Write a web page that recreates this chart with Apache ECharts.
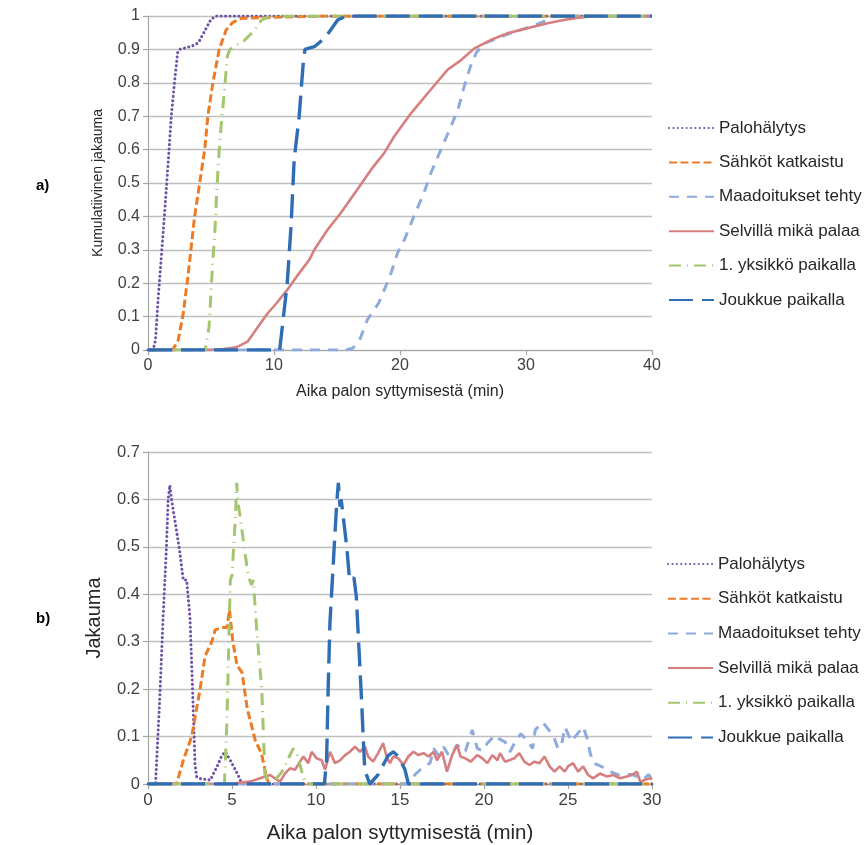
<!DOCTYPE html>
<html><head><meta charset="utf-8">
<script src="https://cdn.jsdelivr.net/npm/echarts@6/dist/echarts.min.js"></script>
<style>html,body{margin:0;padding:0;background:#fff}#c{width:866px;height:845px}</style>
</head><body><div id="c"></div>
<script>
// ---------- Series names ----------
const seriesNames = ['Palohälytys', 'Sähköt katkaistu', 'Maadoitukset tehty', 'Selvillä mikä palaa', '1. yksikkö paikalla', 'Joukkue paikalla'];

// ---------- a) cumulative distribution (time in min, value) ----------
const cumPaloT = [0, 0.4, 0.6, 0.8, 1.0, 1.3, 1.6, 1.85, 2.1, 2.35, 2.5, 3.0, 3.5, 4.0, 4.5, 5.0, 5.4, 40];
const cumPaloV = [0, 0, 0.03, 0.15, 0.25, 0.4, 0.56, 0.7, 0.8, 0.89, 0.9, 0.905, 0.91, 0.92, 0.955, 0.99, 1, 1];

const cumSahkoT = [0, 1.95, 2.4, 2.8, 3.2, 3.7, 4.1, 4.5, 4.75, 5.15, 5.65, 6.2, 6.7, 7.4, 10, 14, 40];
const cumSahkoV = [0, 0, 0.03, 0.11, 0.23, 0.4, 0.5, 0.6, 0.7, 0.8, 0.9, 0.958, 0.98, 0.993, 0.996, 1, 1];

const cumMaadT = [0, 15.7, 16.25, 16.8, 17.4, 18.3, 19.2, 19.8, 20.35, 21.1, 21.9, 22.45, 23.25, 24.05, 24.6, 25.1, 25.6, 26.05, 26.7, 28, 29.1, 30.4, 31.7, 32.3, 40];
const cumMaadV = [0, 0, 0.005, 0.03, 0.09, 0.14, 0.22, 0.29, 0.33, 0.4, 0.47, 0.53, 0.6, 0.67, 0.72, 0.79, 0.85, 0.89, 0.918, 0.938, 0.953, 0.968, 0.988, 1, 1];

const cumSelvT = [0, 5.0, 6.0, 7.0, 7.9, 8.75, 9.5, 10.2, 11.05, 11.9, 12.8, 13.2, 14.25, 15.3, 16.6, 17.7, 18.75, 19.55, 20.9, 22.45, 23.8, 24.85, 25.9, 27.2, 28.5, 30.1, 31.7, 33.3, 34.4, 35.5, 40];
const cumSelvV = [0, 0, 0.003, 0.008, 0.025, 0.07, 0.11, 0.14, 0.18, 0.225, 0.27, 0.3, 0.36, 0.41, 0.48, 0.54, 0.59, 0.64, 0.71, 0.78, 0.84, 0.868, 0.903, 0.928, 0.948, 0.963, 0.978, 0.99, 0.996, 1, 1];

const cumYksT = [0, 4.55, 4.85, 5.1, 5.3, 5.45, 5.6, 5.8, 6.05, 6.3, 6.5, 6.9, 7.6, 8.4, 9.0, 9.6, 12, 40];
const cumYksV = [0, 0, 0.07, 0.24, 0.35, 0.47, 0.57, 0.67, 0.77, 0.88, 0.9, 0.91, 0.925, 0.955, 0.988, 0.998, 1, 1];

const cumJoukT = [0, 10.45, 10.75, 11.05, 11.35, 11.6, 12.0, 12.3, 12.45, 13.2, 14.0, 14.5, 15.05, 15.6, 16, 40];
const cumJoukV = [0, 0, 0.1, 0.2, 0.37, 0.57, 0.7, 0.85, 0.9, 0.908, 0.933, 0.958, 0.988, 0.998, 1, 1];

// ---------- b) distribution (time in min, value) ----------
const disPaloT = [0, 0.45, 0.7, 0.9, 1.1, 1.2, 1.3, 1.4, 1.85, 2.1, 2.3, 2.5, 2.65, 2.8, 2.9, 3.2, 3.5, 3.7, 4.1, 4.4, 4.6, 4.9, 5.3, 5.6, 30];
const disPaloV = [0, 0, 0.18, 0.35, 0.5, 0.6, 0.63, 0.6, 0.5, 0.43, 0.43, 0.35, 0.2, 0.04, 0.015, 0.01, 0.01, 0.008, 0.036, 0.06, 0.068, 0.05, 0.023, 0, 0];

const disSahkoT = [0, 1.7, 2.1, 2.6, 3.1, 3.4, 3.8, 4.0, 4.4, 4.7, 4.85, 5.05, 5.3, 5.6, 5.9, 6.4, 6.75, 7.05, 7.2, 30];
const disSahkoV = [0, 0, 0.05, 0.1, 0.2, 0.27, 0.3, 0.325, 0.33, 0.33, 0.367, 0.3, 0.25, 0.235, 0.16, 0.09, 0.065, 0.015, 0, 0];

const disMaadT = [0, 15.5, 15.9, 16.2, 16.5, 16.8, 17.0, 17.3, 17.6, 17.9, 18.2, 18.4, 18.7, 18.9, 19.3, 19.6, 19.9, 20.2, 20.65, 20.9, 21.25, 21.55, 21.85, 22.2, 22.6, 22.9, 23.05, 23.5, 23.95, 24.15, 24.4, 24.6, 24.82, 25.2, 25.5, 25.9, 26.2, 26.3, 26.5, 26.8, 27.2, 27.6, 28.0, 28.4, 28.8, 29.2, 29.5, 29.8, 30];
const disMaadV = [0, 0, 0.02, 0.03, 0.035, 0.045, 0.075, 0.06, 0.078, 0.06, 0.07, 0.083, 0.068, 0.07, 0.114, 0.075, 0.07, 0.086, 0.103, 0.095, 0.089, 0.068, 0.089, 0.106, 0.09, 0.075, 0.114, 0.13, 0.11, 0.1, 0.075, 0.08, 0.12, 0.09, 0.103, 0.121, 0.09, 0.068, 0.044, 0.04, 0.033, 0.025, 0.019, 0.02, 0.02, 0.015, 0.01, 0.02, 0.01];

const disSelvT = [0, 5.0, 5.5, 6.07, 6.67, 7.26, 7.56, 7.86, 8.15, 8.45, 8.75, 9.05, 9.25, 9.54, 9.74, 10.04, 10.34, 10.54, 10.83, 11.13, 11.43, 11.73, 12.02, 12.32, 12.62, 12.92, 13.1, 13.4, 13.7, 14.0, 14.2, 14.4, 14.6, 14.9, 15.2, 15.5, 15.8, 16.1, 16.4, 16.7, 17.0, 17.2, 17.5, 17.8, 18.1, 18.4, 18.6, 18.9, 19.2, 19.6, 19.9, 20.2, 20.5, 20.8, 20.95, 21.25, 21.5, 21.8, 22.1, 22.4, 22.7, 23.0, 23.3, 23.6, 23.9, 24.2, 24.5, 24.8, 25.0, 25.3, 25.6, 25.9, 26.2, 26.5, 26.9, 27.3, 27.7, 28.1, 28.5, 28.8, 29.1, 29.3, 29.6, 29.9, 30];
const disSelvV = [0, 0, 0.003, 0.005, 0.012, 0.019, 0.012, 0.005, 0.022, 0.033, 0.03, 0.047, 0.058, 0.044, 0.068, 0.054, 0.05, 0.03, 0.068, 0.044, 0.05, 0.061, 0.068, 0.079, 0.068, 0.079, 0.058, 0.047, 0.065, 0.086, 0.058, 0.044, 0.058, 0.054, 0.04, 0.058, 0.068, 0.061, 0.065, 0.058, 0.068, 0.05, 0.068, 0.026, 0.061, 0.082, 0.058, 0.054, 0.047, 0.061, 0.054, 0.044, 0.061, 0.05, 0.065, 0.047, 0.05, 0.054, 0.065, 0.047, 0.04, 0.047, 0.044, 0.058, 0.037, 0.026, 0.037, 0.026, 0.037, 0.044, 0.026, 0.037, 0.019, 0.012, 0.022, 0.016, 0.019, 0.012, 0.016, 0.019, 0.026, 0.005, 0.009, 0.012, 0.01];

const disYksT = [0, 4.55, 4.7, 4.9, 5.0, 5.1, 5.2, 5.28, 5.35, 5.5, 5.67, 5.97, 6.17, 6.27, 6.47, 6.77, 6.96, 7.2, 7.6, 7.96, 8.3, 8.65, 8.9, 9.2, 9.4, 30];
const disYksV = [0, 0, 0.135, 0.43, 0.44, 0.5, 0.56, 0.635, 0.595, 0.56, 0.515, 0.437, 0.42, 0.43, 0.325, 0.2, 0.02, 0, 0.01, 0.025, 0.05, 0.075, 0.06, 0.02, 0, 0];

const disJoukT = [0, 10.5, 10.63, 10.73, 10.83, 11.03, 11.23, 11.33, 11.43, 11.5, 11.83, 12.0, 12.26, 12.4, 12.7, 12.9, 13.2, 13.7, 14.0, 14.3, 14.6, 14.9, 15.3, 15.5, 30];
const disJoukV = [0, 0, 0.05, 0.21, 0.34, 0.466, 0.59, 0.635, 0.585, 0.6, 0.5, 0.43, 0.435, 0.395, 0.185, 0.03, 0, 0.02, 0.04, 0.06, 0.068, 0.058, 0.03, 0, 0];

// ---------- styles ----------
const colors = ['#6F52A5', '#EE7B24', '#8FAADC', '#D77F7F', '#A4C66E', '#2F6DB5'];
const dashes = [[0.1, 4.3], [8, 3.5], [10, 8], 'solid', [12, 6, 1, 6], [24, 9]];
const widths = [3, 3, 3, 2.6, 3, 3.4];
const caps = ['round', 'butt', 'butt', 'butt', 'butt', 'butt'];

const zip = (t, v) => t.map((x, i) => [x, v[i]]);
const cumData = [zip(cumPaloT, cumPaloV), zip(cumSahkoT, cumSahkoV), zip(cumMaadT, cumMaadV), zip(cumSelvT, cumSelvV), zip(cumYksT, cumYksV), zip(cumJoukT, cumJoukV)];
const disData = [zip(disPaloT, disPaloV), zip(disSahkoT, disSahkoV), zip(disMaadT, disMaadV), zip(disSelvT, disSelvV), zip(disYksT, disYksV), zip(disJoukT, disJoukV)];

const FONT = '"Liberation Sans", Arial, sans-serif';
const series = [];
[cumData, disData].forEach((set, gi) => {
  set.forEach((d, i) => {
    series.push({
      name: seriesNames[i], type: 'line', xAxisIndex: gi, yAxisIndex: gi,
      data: d, showSymbol: false, symbol: 'none', symbolSize: 0, smooth: false, animation: false,
      z: 2 + i,
      lineStyle: { color: colors[i], width: widths[i], type: dashes[i], cap: caps[i] },
      itemStyle: { color: colors[i] }
    });
  });
});

const gridColor = '#BFBFBF';
const axisCommon = (fs) => ({
  axisLine: { show: true, lineStyle: { color: '#A6A6A6', width: 1.2 } },
  axisTick: { show: true, inside: false, length: 5, lineStyle: { color: '#A6A6A6', width: 1.2 } },
  axisLabel: { color: '#404040', fontSize: fs, fontFamily: FONT, margin: 8 },
});

const chart = echarts.init(document.getElementById('c'), null, { renderer: 'canvas' });
chart.setOption({
  backgroundColor: '#fff',
  animation: false,
  grid: [
    { left: 148, top: 16, width: 504, height: 334 },
    { left: 148, top: 452, width: 504, height: 332 }
  ],
  xAxis: [
    Object.assign({ type: 'value', gridIndex: 0, min: 0, max: 40, interval: 10,
      name: 'Aika palon syttymisestä (min)', nameLocation: 'middle', nameGap: 34,
      nameTextStyle: { color: '#262626', fontSize: 16, fontFamily: FONT },
      splitLine: { show: false } }, axisCommon(16)),
    Object.assign({ type: 'value', gridIndex: 1, min: 0, max: 30, interval: 5,
      name: 'Aika palon syttymisestä (min)', nameLocation: 'middle', nameGap: 39,
      nameTextStyle: { color: '#262626', fontSize: 20.5, fontFamily: FONT },
      splitLine: { show: false } }, axisCommon(17))
  ],
  yAxis: [
    Object.assign({ type: 'value', gridIndex: 0, min: 0, max: 1, interval: 0.1,
      name: 'Kumulatiivinen jakauma', nameLocation: 'middle', nameGap: 43, nameRotate: 90,
      nameTextStyle: { color: '#262626', fontSize: 14, fontFamily: FONT },
      splitLine: { show: true, lineStyle: { color: gridColor, width: 1.3 } } }, axisCommon(16)),
    Object.assign({ type: 'value', gridIndex: 1, min: 0, max: 0.7, interval: 0.1,
      name: 'Jakauma', nameLocation: 'middle', nameGap: 44, nameRotate: 90,
      nameTextStyle: { color: '#262626', fontSize: 20, fontFamily: FONT },
      splitLine: { show: true, lineStyle: { color: gridColor, width: 1.3 } } }, axisCommon(16.5))
  ],
  legend: [
    { orient: 'vertical', left: 663, top: 113, itemWidth: 45, itemHeight: 14, itemGap: 14.4,
      itemStyle: { opacity: 0 },
      data: seriesNames, textStyle: { color: '#262626', fontSize: 17, lineHeight: 20, fontFamily: FONT }, selectedMode: false },
    { orient: 'vertical', left: 662, top: 549, itemWidth: 45, itemHeight: 14, itemGap: 14.7,
      itemStyle: { opacity: 0 },
      data: seriesNames, textStyle: { color: '#262626', fontSize: 17, lineHeight: 20, fontFamily: FONT }, selectedMode: false }
  ],
  graphic: [
    { type: 'text', left: 36, top: 178, style: { text: 'a)', fontSize: 15, fontWeight: 'bold', fontFamily: FONT, fill: '#000' } },
    { type: 'text', left: 36, top: 611, style: { text: 'b)', fontSize: 15, fontWeight: 'bold', fontFamily: FONT, fill: '#000' } }
  ],
  series: series
});
</script>
</body></html>
